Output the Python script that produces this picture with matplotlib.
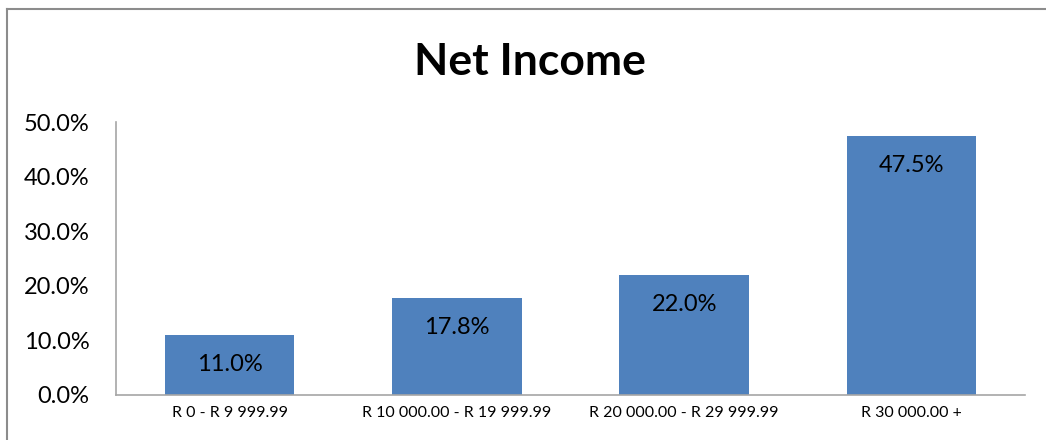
import matplotlib.pyplot as plt
from matplotlib.lines import Line2D

plt.rcParams['font.family'] = ['Lato', 'DejaVu Sans']

categories = ["R 0 - R 9 999.99", "R 10 000.00 - R 19 999.99",
              "R 20 000.00 - R 29 999.99", "R 30 000.00 +"]
values = [11.0, 17.8, 22.0, 47.5]
yticks = [0, 10, 20, 30, 40, 50]

fig = plt.figure(figsize=(10.46, 4.4), dpi=100)
ax = fig.add_axes([0.111, 0.1023, 0.869, 0.6204])

x = range(len(categories))
bars = ax.bar(x, values, width=0.57, color="#4F81BD")
for b, v in zip(bars, values):
    ax.annotate("%.1f%%" % v, (b.get_x() + b.get_width() / 2, v),
                xytext=(0, -21.6), textcoords="offset points",
                ha="center", va="center", fontsize=17, color="black")

ax.set_xlim(-0.5, len(categories) - 0.5)
ax.set_ylim(0, 50)
ax.set_yticks(yticks)
ax.set_yticklabels(["%.1f%%" % t for t in yticks], fontsize=17)
ax.set_xticks(list(x))
ax.set_xticklabels(categories, fontsize=11.5)
ax.tick_params(axis="both", length=0)
ax.tick_params(axis="y", pad=19)
ax.tick_params(axis="x", pad=8)
for s in ["top", "right"]:
    ax.spines[s].set_visible(False)
for s in ["left", "bottom"]:
    ax.spines[s].set_color("#A6A6A6")
    ax.spines[s].set_linewidth(1.2)

fig.text(0.507, 0.859, "Net Income", ha="center", va="center",
         fontsize=32, fontweight="bold")

# cadre du graphique
fig.add_artist(Line2D([7 / 1046, 7 / 1046], [0, 1 - 9 / 440],
                      color="#8C8C8C", lw=1.5))
fig.add_artist(Line2D([7 / 1046, 1], [1 - 9 / 440, 1 - 9 / 440],
                      color="#8C8C8C", lw=1.5))

fig.savefig("out.png", dpi=100)
